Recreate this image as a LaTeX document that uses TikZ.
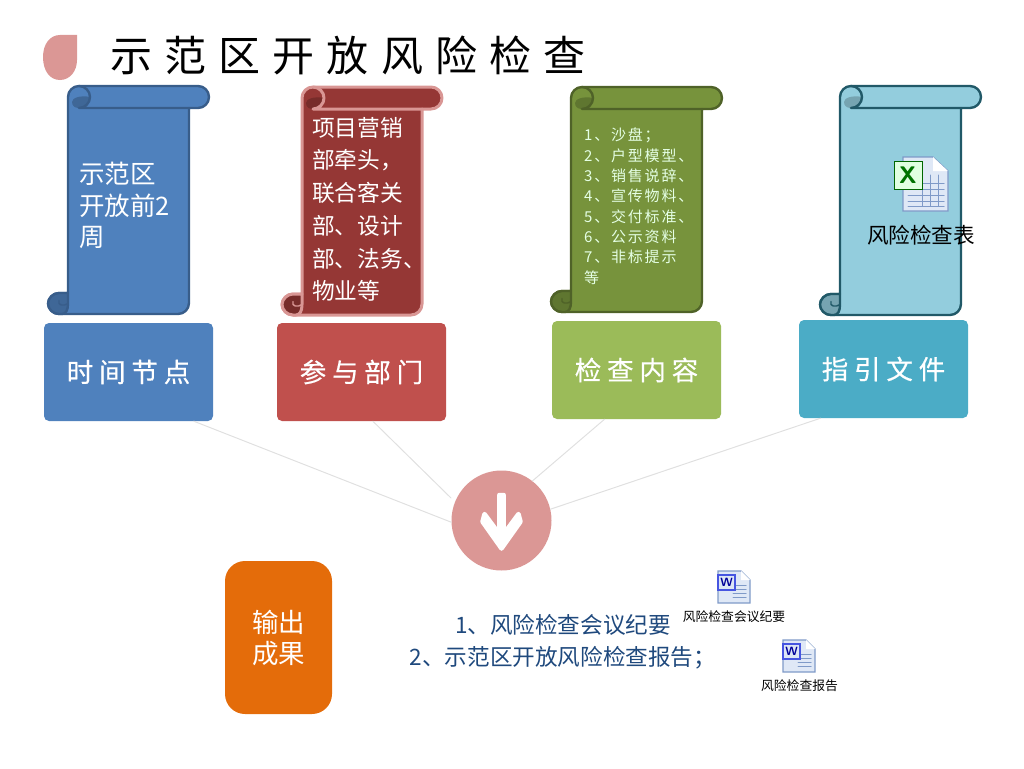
\documentclass[tikz,border=0pt]{standalone}
\usepackage{fontspec}
\usepackage{xcolor}
\usetikzlibrary{calc,positioning}
\newfontfamily\cjk{Noto Sans CJK SC}
\newfontfamily\cjktitle[LetterSpace=29]{Noto Sans CJK SC}
\newfontfamily\cjkbox[LetterSpace=22,FakeBold=0.5]{Noto Sans CJK SC}
\newfontfamily\cjklist[LetterSpace=12]{Noto Sans CJK SC}
\definecolor{scrollblue}{HTML}{4F81BD}
\definecolor{lineblue}{HTML}{385D8A}
\definecolor{foldblue}{HTML}{3F6797}
\definecolor{scrollred}{HTML}{953735}
\definecolor{linered}{HTML}{D99694}
\definecolor{foldred}{HTML}{772C2A}
\definecolor{scrollgreen}{HTML}{77933C}
\definecolor{linegreen}{HTML}{4F6228}
\definecolor{foldgreen}{HTML}{5F7630}
\definecolor{scrollcyan}{HTML}{93CDDD}
\definecolor{linecyan}{HTML}{215968}
\definecolor{foldcyan}{HTML}{76A4B1}
\definecolor{boxred}{HTML}{C0504D}
\definecolor{boxgreen}{HTML}{9BBB59}
\definecolor{boxcyan}{HTML}{4BACC6}
\definecolor{outorange}{HTML}{E46C0A}
\definecolor{pinred}{HTML}{DB9795}
\definecolor{darkblue}{HTML}{1F497D}
\definecolor{iconblue}{HTML}{C5D5EE}
\definecolor{iconline}{HTML}{7F9AC8}
\tikzset{
  every picture/.append style={line cap=round,line join=round},
  step box/.style={rounded corners=5pt,minimum width=169pt,minimum height=98pt,inner sep=0pt,text=white,font=\cjkbox\fontsize{26.5}{30}\selectfont},
  scroll text/.style={anchor=north west,inner sep=0pt,align=left,text=white},
  link/.style={draw=black!12,line width=1pt},
  icon label/.style={inner sep=0pt,font=\cjk\fontsize{12.8}{15}\selectfont},
  sheet/.style={fill=iconblue!55,draw=iconline,line width=1.2pt,line join=miter},
  word icon/.pic={
    \draw[sheet] (0,0) -- (23,0) -- (32,9) -- (32,32) -- (0,32) -- cycle;
    \fill[white] (23,0) -- (23,9) -- (32,9) -- cycle;
    \foreach \yy in {14,18,22,26} {\draw[iconline,line width=1pt] (15,\yy) -- (28,\yy);}
    \fill[blue!45!iconline] (-1,3) rectangle (18,20);
    \fill[iconblue!60] (1,5) rectangle (16,18);
    \node[inner sep=0pt,text=blue!60!black,font=\sffamily\bfseries\fontsize{12}{12}\selectfont] (-wmark) at (8.5,11.5) {W};
  },
  excel icon/.pic={
    \draw[sheet] (9,-4) -- (39,-4) -- (54,10) -- (54,50) -- (9,50) -- cycle;
    \fill[white] (39,-4) -- (39,10) -- (54,10) -- cycle;
    \foreach \yy in {22,28,34,40,45} {\draw[iconline,line width=1pt] (14,\yy) -- (50,\yy);}
    \foreach \xx in {28,36,44} {\draw[iconline,line width=1pt] (\xx,14) -- (\xx,45);}
    \draw[green!40!black,fill=green!12,line width=1pt,line join=miter] (0,0) rectangle (28,28);
    \node[inner sep=0pt,text=green!45!black,font=\sffamily\bfseries\fontsize{24}{24}\selectfont] (-xmark) at (14,14) {X};
  }
}
\begin{document}
\begin{tikzpicture}[x=1pt,y=-1pt]
  \useasboundingbox (0,0) rectangle (1024,768);
  % title
  \fill[pinred] (77,35) -- (60,35) .. controls (50,35) and (43,44) .. (43,57)
    .. controls (43,71) and (50,80) .. (60,80) .. controls (70,80) and (77,71) .. (77,60) -- cycle;
  \node[anchor=west,inner sep=0pt,font=\cjktitle\fontsize{42}{50}\selectfont] (title) at (110,55) {示范区开放风险检查};
  % scrolls
  \foreach \sx/\sy/\sw/\sh/\fillc/\linec/\foldc/\lw in {
    48/86/161/228/scrollblue/lineblue/foldblue/2.4,
    282/87/160/228/scrollred/linered/foldred/3,
    551/87/171/225/scrollgreen/linegreen/foldgreen/2.4,
    820/86/161/229/scrollcyan/linecyan/foldcyan/2.4} {
    \begin{scope}[shift={(\sx,\sy)}]
      \pgfmathsetmacro\br{\sw-20}
      \pgfmathsetmacro\cy{\sh-21}
      \pgfmathsetmacro\my{\sh-10.5}
      \filldraw[fill=\fillc,draw=\linec,line width=\lw pt]
        (20,40) [rounded corners=11pt] -- (20,0) -- (\sw,0) -- (\sw,22) [sharp corners] -- (\br,22)
        [rounded corners=11pt] -- (\br,\sh) -- (0,\sh) -- (0,\cy) [sharp corners] -- (20,\cy) -- cycle;
      % folds
      \fill[\foldc] (24,16) .. controls (24,12) and (32,9) .. (42,11)
        .. controls (42,17) and (37,22) .. (31,22) .. controls (27,22) and (24,20) .. (24,16) -- cycle;
      \draw[\linec,line width=\lw pt] (31,0) .. controls (37,0) and (42,5) .. (42,11)
        .. controls (42,17) and (37,22) .. (31,22) -- (\br,22);
      \draw[\linec,line width=\lw pt,fill=\foldc] (20,\cy) -- (11,\cy)
        .. controls (5,\cy) and (0,\my-5) .. (0,\my)
        .. controls (0,\sh-5) and (5,\sh) .. (11,\sh) -- (14,\sh) .. controls (18,\sh) and (20,\sh-4) .. (20,\my) -- cycle;
      \draw[\linec,line width=1.4pt] (20,\my) .. controls (16,\my+3) and (9,\my+2) .. (11,\my-3);
    \end{scope}
  }
  \node[scroll text,font=\cjk\fontsize{25.5}{31.5}\selectfont] (when) at (79,162) {示范区\\开放前2\\周};
  \node[scroll text,font=\cjk\fontsize{22.7}{32.7}\selectfont] (who) at (312,117) {项目营销\\部牵头，\\联合客关\\部、设计\\部、法务、\\物业等};
  \node[scroll text,text=white!90!green,font=\cjklist\fontsize{15}{20.3}\selectfont] (what) at (584,128) {1、沙盘；\\2、户型模型、\\3、销售说辞、\\4、宣传物料、\\5、交付标准、\\6、公示资料\\7、非标提示\\等};
  \pic (xls) at (894,161) {excel icon};
  \node[inner sep=0pt,font=\cjk\fontsize{21.6}{25}\selectfont] (xlsname) at (921,235) {风险检查表};
  % boxes
  \foreach \nm/\bx/\by/\bc/\lab in {
    box1/128.5/372/scrollblue/时间节点,
    box2/361.5/372/boxred/参与部门,
    box3/636.5/370/boxgreen/检查内容,
    box4/883.5/369/boxcyan/指引文件} {
    \node[step box,fill=\bc] (\nm) at (\bx,\by) {\lab};
  }
  % links
  \node[circle,fill=pinred,minimum size=100pt,inner sep=0pt] (pin) at (501.5,520.5) {};
  \coordinate (pinend) at (451,498);
  \draw[link] (box1.-37) -- (pin.182);
  \draw[link] (box2.-77) -- (pinend);
  \draw[link] (box3.-123) -- (pin.52);
  \draw[link] (box4.-142) -- (pin.13);
  \filldraw[white,line width=4.5pt] (499.3,495) -- (503.7,495) -- (503.7,534) -- (518.5,514) -- (520.5,521.7)
    -- (501.5,548.5) -- (482.5,521.7) -- (484.5,514) -- (499.3,534) -- cycle;
  % output
  \node[fill=outorange,rounded corners=20pt,minimum width=107pt,minimum height=153pt,inner sep=0pt,text=white,align=center,font=\cjk\fontsize{26.5}{31}\selectfont] (out) at (278.5,637.5) {输出\\成果};
  \node[inner sep=0pt,text=darkblue,font=\cjk\fontsize{22.6}{32}\selectfont,align=center] (result) at (563,642) {1、风险检查会议纪要\\2、示范区开放风险检查报告；};
  \pic (doc1) at (718,571) {word icon};
  \node[icon label] (doc1name) at (734,617) {风险检查会议纪要};
  \pic (doc2) at (783,640) {word icon};
  \node[icon label] (doc2name) at (799.5,686) {风险检查报告};
\end{tikzpicture}
\end{document}
